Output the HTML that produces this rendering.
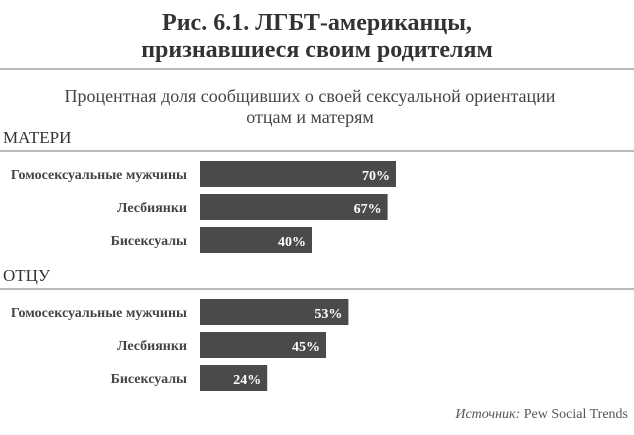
<!DOCTYPE html>
<html><head><meta charset="utf-8"><style>
body{margin:0;width:634px;height:430px;background:#fff;font-family:"Liberation Serif","Noto Serif CJK SC",serif;color:#333;overflow:hidden}
</style></head><body>
<svg width="634" height="430">
<text x="317" y="30" text-anchor="middle" font-size="24" font-weight="bold" fill="#333">Рис. 6.1. ЛГБТ-американцы,</text>
<text x="317" y="57" text-anchor="middle" font-size="24" font-weight="bold" fill="#333">признавшиеся своим родителям</text>
<line x1="0" y1="69" x2="634" y2="69" stroke="#bbb" stroke-width="2"/>
<text x="310" y="102" text-anchor="middle" font-size="18" fill="#444">Процентная доля сообщивших о своей сексуальной ориентации</text>
<text x="310" y="123" text-anchor="middle" font-size="18" fill="#444">отцам и матерям</text>
<g id="bars"></g>
<text x="628" y="418" text-anchor="end" font-size="14" fill="#555"><tspan font-style="italic">Источник:</tspan> Pew Social Trends</text>
</svg>
<script>
const groups=["МАТЕРИ","ОТЦУ"];
const categories=["Гомосексуальные мужчины","Лесбиянки","Бисексуалы"];
const motherValues=[70,67,40];
const fatherValues=[53,45,24];
const series=[motherValues,fatherValues];
const g=document.getElementById('bars');
const NS='http://www.w3.org/2000/svg';
const x0=200, scale=2.8;
const xScale=v=>v*scale;
function mk(t,a){const e=document.createElementNS(NS,t);for(const k in a)e.setAttribute(k,a[k]);g.appendChild(e);return e;}
groups.forEach((gn,gi)=>{
  const top=gi*138;
  const h=mk('text',{x:3,y:top+143,'font-size':17,fill:'#333'});h.textContent=gn;
  
  
  const l=mk('line',{x1:0,y1:top+151,x2:634,y2:top+151,stroke:'#bbb','stroke-width':2});
  
  
  categories.forEach((c,i)=>{
    const y=top+161+i*33, v=series[gi][i], w=xScale(v);
    const lb=mk('text',{x:187,y:y+18,'text-anchor':'end','font-size':14,'font-weight':'bold',fill:'#444'});lb.textContent=c;
    
    
    const r=mk('rect',{x:x0,y:y,width:w,height:26,fill:'#4a4a4a'});
    
    
    const vt=mk('text',{x:x0+w-6,y:y+19,'text-anchor':'end','font-size':14,'font-weight':'bold',fill:'#fff'});vt.textContent=v+'%';
    
    
  });
});
</script>
</body></html>
